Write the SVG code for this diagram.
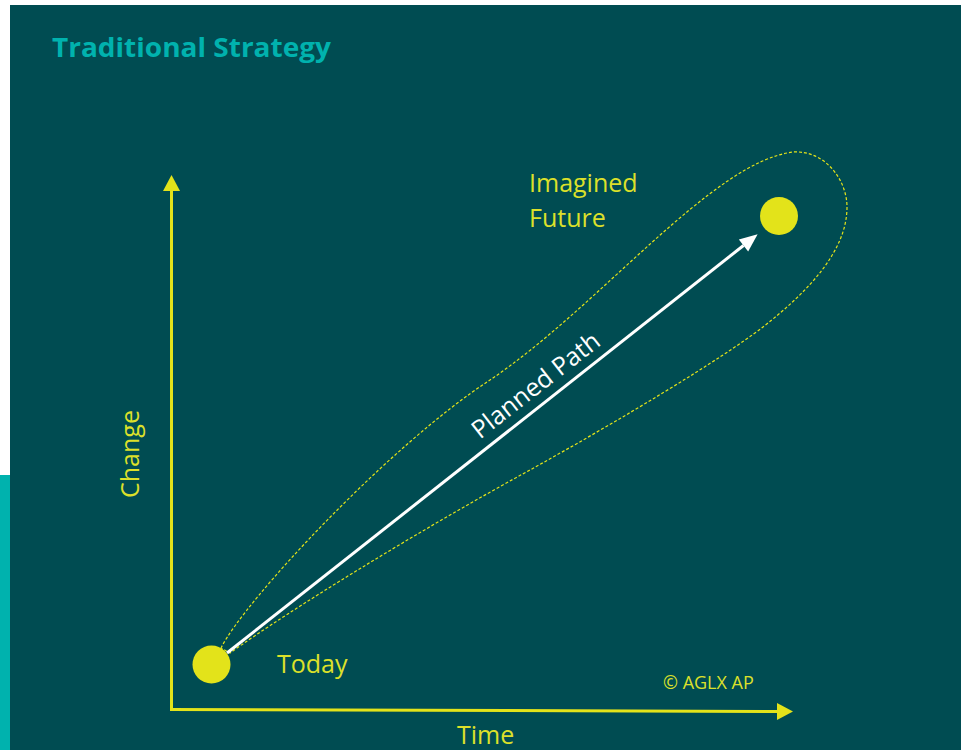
<svg xmlns="http://www.w3.org/2000/svg" width="961" height="750" viewBox="0 0 961 750">
  <style>
    .lbl { font-family: "Open Sans", "Liberation Sans", sans-serif; fill: #DCE02A; font-size: 25px; }
    .axis { stroke: #E3E31A; stroke-width: 3; fill: none; }
    .dot { fill: #E3E31A; }
    .path { stroke: #FFFFFF; stroke-width: 3; fill: none; }
    .outline { stroke: #E3E31A; stroke-width: 1.2; stroke-dasharray: 3 2; fill: none; }
  </style>
  <defs>
    <marker id="axisHead" markerUnits="userSpaceOnUse" markerWidth="16" markerHeight="18" refX="0" refY="8.5" orient="auto" overflow="visible">
      <path d="M0,0 L16,8.5 L0,17 Z" fill="#E3E31A"/>
    </marker>
    <marker id="pathHead" markerUnits="userSpaceOnUse" markerWidth="18" markerHeight="16" refX="0" refY="7.5" orient="auto" overflow="visible">
      <path d="M0,0 L18,7.5 L0,15 Z" fill="#FFFFFF"/>
    </marker>
  </defs>

  <rect x="0" y="0" width="961" height="750" fill="#FFFFFF"/>
  <rect x="10" y="5" width="951" height="745" fill="#004C52"/>
  <rect x="0" y="475" width="10" height="275" fill="#00B2AE"/>

  <g id="title">
    <text x="52" y="57" font-family="'Open Sans', 'Liberation Sans', sans-serif" font-weight="bold" font-size="27" fill="#00B2AE" textLength="279" lengthAdjust="spacingAndGlyphs">Traditional Strategy</text>
  </g>

  <g id="connectors">
    <line class="axis" x1="171.5" y1="710" x2="171.5" y2="191" marker-end="url(#axisHead)"/>
    <line class="axis" x1="170" y1="709.5" x2="777" y2="711.5" marker-end="url(#axisHead)"/>
    <path class="outline" d="M221,648 C245,600 390,445 490,380 C600,306 712,162 793,152 C825,150 847,180 847,207 C847,250 810,290 763,327 C720,360 620,420 530,470 C420,530 290,610 230,653 Z"/>
    <line class="path" x1="227" y1="653" x2="743.5" y2="245.5" marker-end="url(#pathHead)"/>
  </g>

  <g id="today">
    <circle class="dot" cx="211.5" cy="664.5" r="19"/>
    <text class="lbl" x="277" y="673">Today</text>
  </g>

  <g id="future">
    <circle class="dot" cx="779" cy="216" r="19"/>
    <text class="lbl" x="529" y="192">Imagined</text>
    <text class="lbl" x="529" y="227">Future</text>
  </g>

  <g id="planned-path-label">
    <text x="0" y="0" transform="translate(541,392) rotate(-38)" text-anchor="middle" font-family="'Open Sans', 'Liberation Sans', sans-serif" font-size="25" fill="#FFFFFF">Planned Path</text>
  </g>

  <g id="axis-labels">
    <text class="lbl" transform="translate(139,498) rotate(-90)" x="0" y="0">Change</text>
    <text class="lbl" x="457" y="744">Time</text>
  </g>

  <g id="copyright">
    <text x="663" y="689" font-family="'Open Sans', 'Liberation Sans', sans-serif" font-size="18" fill="#DCE02A">© AGLX AP</text>
  </g>
</svg>
